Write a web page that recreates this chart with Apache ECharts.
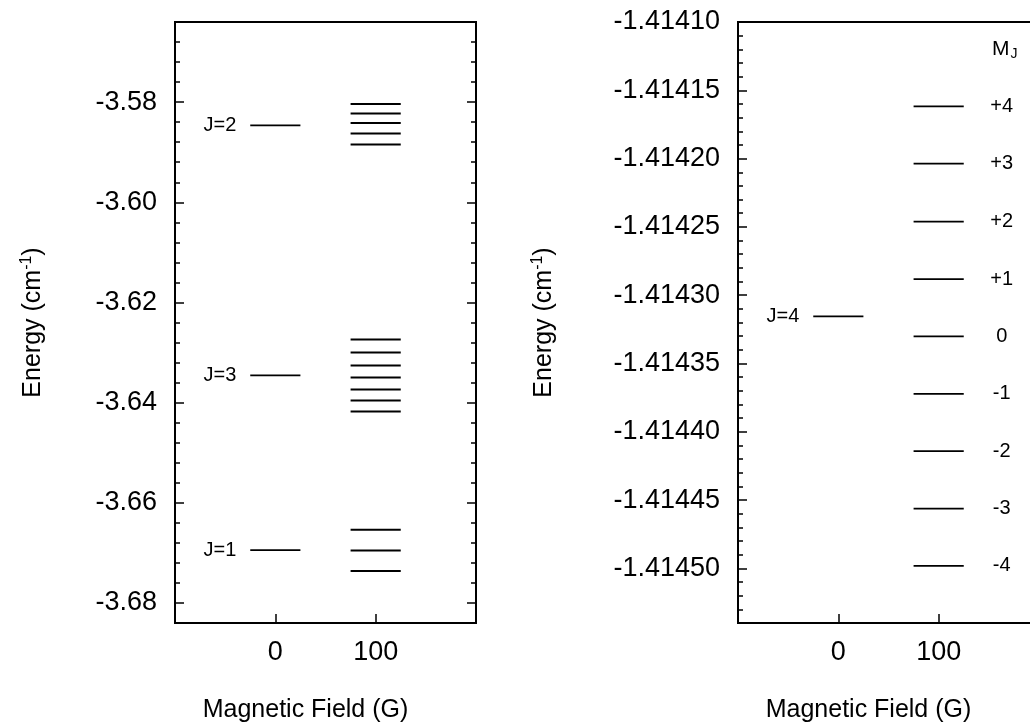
<!DOCTYPE html>
<html>
<head>
<meta charset="utf-8">
<script src="https://cdn.jsdelivr.net/npm/echarts@6/dist/echarts.min.js"></script>
<style>
  html, body { margin: 0; padding: 0; background: #fff; }
  #chart { width: 1030px; height: 726px; }
</style>
</head>
<body>
<div id="chart"></div>
<script>
// ---------------- DATA ----------------
const fields = [0, 100];                       // magnetic field columns (G)
const xTicks = [0, 100];

// Left panel
const leftLevelNames = ['J=2', 'J=3', 'J=1'];
const leftZeroFieldEnergy = [-3.58465, -3.63457, -3.66943];
const leftJ2Split = [-3.58037, -3.58225, -3.58417, -3.58624, -3.58844];
const leftJ3Split = [-3.62738, -3.62997, -3.63257, -3.63497, -3.63736, -3.63956, -3.64176];
const leftJ1Split = [-3.66538, -3.66951, -3.67363];
const leftYTicks = [-3.68, -3.66, -3.64, -3.62, -3.60, -3.58];
const leftYMin = -3.684, leftYMax = -3.564, leftMinorStep = 0.004;

// Right panel
const rightLevelNames = ['J=4'];
const rightZeroFieldEnergy = [-1.4143155];
const rightMJ = ['+4', '+3', '+2', '+1', '0', '-1', '-2', '-3', '-4'];
const rightSplit = [-1.4141618, -1.4142037, -1.4142462, -1.4142882, -1.4143302,
                    -1.4143722, -1.4144142, -1.4144562, -1.4144982];
const rightYTicks = [-1.41450, -1.41445, -1.41440, -1.41435, -1.41430,
                     -1.41425, -1.41420, -1.41415, -1.41410];
const rightYMin = -1.41454, rightYMax = -1.41410, rightMinorStep = 0.00001;

// ---------------- STYLE ----------------
const FONT = '"Liberation Sans", Arial, Helvetica, sans-serif';
const HALF = 25;   // half length of a level bar, in gauss

function minorList(min, max, step, digits) {
  const out = [];
  const n = Math.round((max - min) / step);
  for (let k = 0; k <= n; k++) out.push(Number((min + k * step).toFixed(digits)));
  return out;
}
const leftMinor = minorList(leftYMin, leftYMax, leftMinorStep, 3);
const rightMinor = minorList(rightYMin, rightYMax, rightMinorStep, 5);

function xAxisFor(gi) {
  return {
    gridIndex: gi, type: 'value', min: -100, max: 200, interval: 100,
    axisLine: { show: false, onZero: false },
    axisTick: { show: true, inside: true, length: 9, customValues: xTicks,
                lineStyle: { color: '#000', width: 1.5 } },
    axisLabel: { customValues: xTicks, fontSize: 27, color: '#000', margin: 16, fontFamily: FONT,
                 formatter: v => (xTicks.indexOf(v) >= 0 ? String(v) : '') },
    splitLine: { show: false },
    name: 'Magnetic Field (G)', nameLocation: 'middle', nameGap: 75,
    nameTextStyle: { fontSize: 25, color: '#000', fontFamily: FONT, padding: [0, 40, 0, 0] }
  };
}

function yAxesFor(gi, min, max, majors, minors, digits, nameGap) {
  const base = { gridIndex: gi, type: 'value', min: min, max: max, scale: true,
                 axisLine: { show: false, onZero: false }, splitLine: { show: false } };
  const main = Object.assign({}, base, {
    position: 'left',
    axisTick: { show: true, inside: true, length: 9, customValues: majors,
                lineStyle: { color: '#000', width: 1.5 } },
    axisLabel: { show: true, customValues: majors, fontSize: 27, color: '#000', margin: 18,
                 fontFamily: FONT, formatter: v => v.toFixed(digits) },
    name: 'Energy (cm{sup|-1})', nameLocation: 'middle', nameGap: nameGap, nameRotate: 90,
    nameTextStyle: { fontSize: 25, color: '#000', fontFamily: FONT,
                     rich: { sup: { fontSize: 16, color: '#000', fontFamily: FONT, verticalAlign: 'top', padding: [0, 0, 12, 0] } } }
  });
  const minorL = Object.assign({}, base, {
    position: 'left',
    axisTick: { show: true, inside: true, length: 5, customValues: minors,
                lineStyle: { color: '#000', width: 1.5 } },
    axisLabel: { show: false }
  });
  const mainR = Object.assign({}, base, {
    position: 'right',
    axisTick: { show: true, inside: true, length: 9, customValues: majors,
                lineStyle: { color: '#000', width: 1.5 } },
    axisLabel: { show: false }
  });
  const minorR = Object.assign({}, base, {
    position: 'right',
    axisTick: { show: true, inside: true, length: 5, customValues: minors,
                lineStyle: { color: '#000', width: 1.5 } },
    axisLabel: { show: false }
  });
  return [main, minorL, mainR, minorR];
}

function levelSeries(xi, yi, data, labels, side, lw) {
  return {
    type: 'custom', xAxisIndex: xi, yAxisIndex: yi, silent: true, clip: false,
    data: data,
    renderItem: function (params, api) {
      const f = api.value(0), e = api.value(1);
      const p1 = api.coord([f - HALF, e]);
      const p2 = api.coord([f + HALF, e]);
      const children = [{
        type: 'line',
        shape: { x1: p1[0], y1: p1[1], x2: p2[0], y2: p2[1] },
        style: { stroke: '#000', lineWidth: lw }
      }];
      if (labels) {
        const txt = labels[params.dataIndex];
        children.push({
          type: 'text',
          x: side === 'left' ? p1[0] - 14 : p2[0] + 38,
          y: p1[1],
          style: { text: txt, fill: '#000', fontSize: 20, fontFamily: FONT,
                   align: side === 'left' ? 'right' : 'center', verticalAlign: 'middle' }
        });
      }
      return { type: 'group', children: children };
    }
  };
}

const leftSplitAll = leftJ2Split.concat(leftJ3Split, leftJ1Split);

const option = {
  backgroundColor: '#fff',
  animation: false,
  title: {
    text: 'M{sub|J}', left: 987, top: 33,
    textStyle: { fontSize: 21, fontWeight: 'normal', color: '#000', fontFamily: FONT,
                 rich: { sub: { fontSize: 14, color: '#000', fontFamily: FONT, verticalAlign: 'bottom', padding: [9, 0, 0, 1] } } }
  },
  grid: [
    { left: 175, top: 22, width: 301, height: 601, show: true, borderColor: '#000', borderWidth: 2,
      containLabel: false, outerBoundsMode: 'none' },
    { left: 738, top: 22, width: 301, height: 601, show: true, borderColor: '#000', borderWidth: 2,
      containLabel: false, outerBoundsMode: 'none' }
  ],
  xAxis: [xAxisFor(0), xAxisFor(1)],
  yAxis: yAxesFor(0, leftYMin, leftYMax, leftYTicks, leftMinor, 2, 128)
          .concat(yAxesFor(1, rightYMin, rightYMax, rightYTicks, rightMinor, 5, 180)),
  series: [
    levelSeries(0, 0, leftZeroFieldEnergy.map(e => [fields[0], e]), leftLevelNames, 'left', 1.7),
    levelSeries(0, 0, leftSplitAll.map(e => [fields[1], e]), null, 'right', 2),
    levelSeries(1, 4, rightZeroFieldEnergy.map(e => [fields[0], e]), rightLevelNames, 'left', 1.7),
    levelSeries(1, 4, rightSplit.map(e => [fields[1], e]), rightMJ, 'right', 1.7)
  ]
};

const chart = echarts.init(document.getElementById('chart'), null, { renderer: 'canvas' });
chart.setOption(option);
</script>
</body>
</html>
